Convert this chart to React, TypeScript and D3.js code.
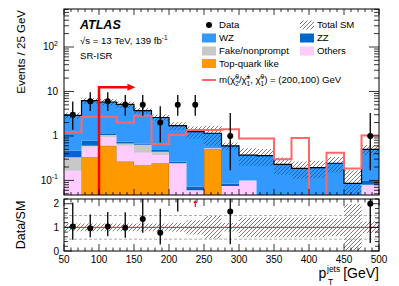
import React from 'react';
import * as d3 from 'd3';

// bins of pT(jets) in GeV
const binEdges = [50, 75, 100, 125, 150, 175, 200, 225, 250, 275, 300, 325, 350, 375, 400, 425, 450, 475, 500];

// background components (events / bin)
const topQuark = [0, 0.33, 0.6, 0.265, 0.22, 0.243, 0, 0, 0.5, 0, 0, 0, 0, 0, 0, 0, 0, 0];
const others = [0.166, 0.24, 0.33, 0.335, 0.2, 0.131, 0.243, 0.06, 0.03, 0.075, 0.1, 0, 0, 0, 0, 0, 0, 0.08];
const fake = [0.164, 0.03, 0.12, 0.08, 0.21, 0.066, 0, 0, 0, 0, 0, 0, 0, 0, 0, 0, 0, 0];
const zz = [0.14, 0.18, 0.05, 0.06, 0.05, 0.04, 0.02, 0.013, 0, 0.01, 0, 0, 0, 0, 0, 0, 0, 0.02];
const wz = [2.43, 5.42, 4.7, 4.36, 3.02, 2.12, 1.44, 1.18, 0.62, 0.515, 0.27, 0.36, 0.23, 0.187, 0.194, 0.243, 0.086, 0.4];
// relative uncertainty on total SM
const relUnc = [0.16, 0.16, 0.16, 0.16, 0.16, 0.16, 0.19, 0.3, 0.48, 0.18, 0.42, 0.42, 0.42, 0.42, 0.42, 0.38, 0.98, 0.25];

// signal m(chi2/chi1, chi1) = (200,100) GeV
const signal = [1.21, 2.7, 2.7, 2.0, 2.86, 0.66, 1.05, 1.36, 1.36, 1.41, 0.88, 0.88, 0.3, 0.9, 0, 0.42, 0.185, 1.02];

// observed data + asymmetric poisson intervals
const data = [3, 6, 6, 5, 5, 2, 5, 5, 0, 1, 0, 0, 0, 0, 0, 0, 0, 1];
const dataLo = [1.37, 3.62, 3.62, 2.84, 2.84, 0.71, 2.84, 2.84, 0, 0.17, 0, 0, 0, 0, 0, 0, 0, 0.17];
const dataHi = [5.92, 9.58, 9.58, 8.38, 8.38, 4.64, 8.38, 8.38, 0, 3.3, 0, 0, 0, 0, 0, 0, 0, 3.3];

const xTickLabels = [50, 100, 150, 200, 250, 300, 350, 400, 450, 500];
const yDecades = [-1, 0, 1, 2];
const ratioTickLabels = [0, 1, 2];

// SR cut arrow
const cutValue = 100;
const cutArrowTop = 12.4;
const cutArrowEnd = 152;

const W = 399, H = 286;
const L = 64, R = 379;
const MT = 9, MB = 195;
const RT = 199, RB = 251;
const FONT = "'Liberation Sans', Arial, Helvetica, sans-serif";

const x = d3.scaleLinear().domain([50, 500]).range([L, R]);
const y = d3.scaleLog().domain([0.047, 715]).range([MB, MT]);
const yr = d3.scaleLinear().domain([0, 2.2]).range([RB, RT]);

const yv = (v: number) => (v > 0 ? Math.min(MB + 3, y(v)) : MB + 3);

const layers = [
  { name: 'Top-quark like', vals: topQuark, color: '#ff9900' },
  { name: 'Others', vals: others, color: '#ffccff' },
  { name: 'Fake/nonprompt', vals: fake, color: '#c8c8c8' },
  { name: 'ZZ', vals: zz, color: '#0066cc' },
  { name: 'WZ', vals: wz, color: '#3399ff' },
];

const nBins = binEdges.length - 1;
const total = d3.range(nBins).map(i => d3.sum(layers, l => l.vals[i]));

// cumulative stack
const cum: number[][] = [];
{
  let run = new Array(nBins).fill(0);
  layers.forEach(l => {
    const lo = run.slice();
    run = run.map((r, i) => r + l.vals[i]);
    cum.push(lo, run.slice());
  });
}

type Pt = [number, number, number];
const stepPts = (lo: number[], hi: number[]): Pt[] =>
  binEdges.map((e, i) => {
    const k = Math.min(i, nBins - 1);
    return [e, lo[k], hi[k]];
  });

const areaMain = d3.area<Pt>().x(d => x(d[0])).y0(d => yv(d[1])).y1(d => yv(d[2])).curve(d3.curveStepAfter);
const lineMain = d3.line<Pt>().x(d => x(d[0])).y(d => yv(d[2])).curve(d3.curveStepAfter);
const areaRatio = d3.area<Pt>().x(d => x(d[0])).y0(d => yr(d[1])).y1(d => yr(d[2])).curve(d3.curveStepAfter);

const centers = d3.range(nBins).map(i => (binEdges[i] + binEdges[i + 1]) / 2);

const App: React.FC = () => {
  const xMinor = d3.range(50, 501, 10);
  const yMinor: number[] = [];
  [-2, -1, 0, 1, 2].forEach(d => {
    for (let k = 2; k <= 9; k++) {
      const v = k * Math.pow(10, d);
      if (v > 0.047 && v < 715) yMinor.push(v);
    }
  });
  const rMinor = d3.range(0, 2.21, 0.2);

  const zeros = new Array(nBins).fill(0);
  const bandLo = total.map((t, i) => t * (1 - relUnc[i]));
  const bandHi = total.map((t, i) => t * (1 + relUnc[i]));
  const rLo = relUnc.map(u => Math.max(0, 1 - u));
  const rHi = relUnc.map(u => 1 + u);

  const legRow = [25, 38, 51, 63.5, 80];
  const c1 = 202, c2 = 300;

  return (
    <svg width={W} height={H} style={{ position: 'absolute', left: 0, top: 0, background: '#fff' }} fontFamily={FONT}>
      <defs>
        <pattern id="hatch" patternUnits="userSpaceOnUse" width={4} height={4}>
          <path d="M-1,1 l2,-2 M0,4 l4,-4 M3,5 l2,-2" stroke="#444" strokeWidth={0.7} />
        </pattern>
        <clipPath id="clipMain"><rect x={L} y={MT} width={R - L} height={MB - MT} /></clipPath>
        <clipPath id="clipRatio"><rect x={L} y={RT} width={R - L} height={RB - RT} /></clipPath>
      </defs>

      {/* main panel */}
      <g clipPath="url(#clipMain)">
        {layers.map((l, j) => (
          <path key={l.name} d={areaMain(stepPts(cum[2 * j], cum[2 * j + 1])) || ''} fill={l.color}
            stroke={j === 0 ? '#b87a1e' : 'none'} strokeWidth={1} />
        ))}
        <path d={areaMain(stepPts(bandLo, bandHi)) || ''} fill="url(#hatch)" />
        <path d={lineMain(stepPts(zeros, total)) || ''} fill="none" stroke="#000" strokeWidth={1.2} />
        <path d={lineMain(stepPts(zeros, signal)) || ''} fill="none" stroke="#ff6666" strokeWidth={2} />
        {data.map((d, i) => d > 0 && (
          <g key={i}>
            <line x1={x(centers[i])} x2={x(centers[i])} y1={yv(dataLo[i])} y2={yv(dataHi[i])} stroke="#000" strokeWidth={1.3} />
            <circle cx={x(centers[i])} cy={y(d)} r={3} fill="#000" />
          </g>
        ))}
        <path d={`M${x(cutValue)},${MB + 2}V${y(cutArrowTop)}H${x(cutArrowEnd) - 7}`} fill="none" stroke="#ff0000" strokeWidth={2.5} />
        <path d={`M${x(cutArrowEnd) - 8},${y(cutArrowTop) - 3.5}L${x(cutArrowEnd)},${y(cutArrowTop)}L${x(cutArrowEnd) - 8},${y(cutArrowTop) + 3.5}Z`} fill="#ff0000" />
      </g>

      {/* main ticks */}
      {xMinor.map(v => {
        const len = v % 50 === 0 ? 6 : 3;
        return (
          <g key={'mx' + v} stroke="#000" strokeWidth={0.8}>
            <line x1={x(v)} x2={x(v)} y1={MB} y2={MB - len} />
            <line x1={x(v)} x2={x(v)} y1={MT} y2={MT + len} />
          </g>
        );
      })}
      {yMinor.map(v => (
        <g key={'my' + v} stroke="#000" strokeWidth={0.8}>
          <line x1={L} x2={L + 5} y1={y(v)} y2={y(v)} />
          <line x1={R} x2={R - 5} y1={y(v)} y2={y(v)} />
        </g>
      ))}
      {yDecades.map(d => (
        <g key={'md' + d} stroke="#000" strokeWidth={0.8}>
          <line x1={L} x2={L + 10} y1={y(Math.pow(10, d))} y2={y(Math.pow(10, d))} />
          <line x1={R} x2={R - 10} y1={y(Math.pow(10, d))} y2={y(Math.pow(10, d))} />
        </g>
      ))}
      {yDecades.map(d => (
        <text key={'ml' + d} x={58} y={y(Math.pow(10, d)) + 3.5} fontSize={10} textAnchor="end">
          {d === 0 ? '1' : d === 1 ? '10' : (
            <>10<tspan fontSize={7} dy={-4.5}>{String(d)}</tspan></>
          )}
        </text>
      ))}
      <rect x={L} y={MT} width={R - L} height={MB - MT} fill="none" stroke="#000" strokeWidth={1} />

      {/* labels */}
      <text x={80} y={29} fontSize={12.5} fontWeight="bold" fontStyle="italic">ATLAS</text>
      <text x={80} y={44} fontSize={9.6}>√s = 13 TeV, 139 fb<tspan fontSize={6.5} dy={-4}>-1</tspan></text>
      <text x={80} y={59} fontSize={9.6}>SR-ISR</text>
      <text transform={`translate(25,10) rotate(-90)`} fontSize={11.5} textAnchor="end">Events / 25 GeV</text>

      {/* legend */}
      <circle cx={c1 + 7} cy={legRow[0]} r={3} fill="#000" />
      <text x={219} y={legRow[0] + 3.4} fontSize={9.6}>Data</text>
      <rect x={c2} y={legRow[0] - 4.5} width={14} height={9} fill="url(#hatch)" />
      <text x={317} y={legRow[0] + 3.4} fontSize={9.6}>Total SM</text>
      {[
        { l: layers[4], cx: c1, tx: 219, r: 1 },
        { l: layers[3], cx: c2, tx: 317, r: 1 },
        { l: layers[2], cx: c1, tx: 219, r: 2 },
        { l: layers[1], cx: c2, tx: 317, r: 2 },
        { l: layers[0], cx: c1, tx: 219, r: 3 },
      ].map(e => (
        <g key={e.l.name}>
          <rect x={e.cx} y={legRow[e.r] - 4.5} width={14} height={9} fill={e.l.color} />
          <text x={e.tx} y={legRow[e.r] + 3.4} fontSize={9.6}>{e.l.name}</text>
        </g>
      ))}
      <line x1={c1} x2={c1 + 14} y1={legRow[4]} y2={legRow[4]} stroke="#ff6666" strokeWidth={2} />
      <text x={219} y={legRow[4] + 3.4} fontSize={9.6}>
        m(χ̃<tspan fontSize={6.5} dy={2.5}>2</tspan><tspan fontSize={6.5} dx={-3.6} dy={-6.5}>0</tspan>
        <tspan dy={4}>/χ̃</tspan><tspan fontSize={6.5} dy={2.5}>1</tspan><tspan fontSize={6.5} dx={-3.6} dy={-6.5}>±</tspan>
        <tspan dy={4}>, χ̃</tspan><tspan fontSize={6.5} dy={2.5}>1</tspan><tspan fontSize={6.5} dx={-3.6} dy={-6.5}>0</tspan>
        <tspan dy={4}>) = (200,100) GeV</tspan>
      </text>

      {/* ratio panel */}
      <g clipPath="url(#clipRatio)">
        <path d={areaRatio(stepPts(rLo, rHi)) || ''} fill="url(#hatch)" />
        {[0.5, 1.5].map(v => (
          <line key={'g' + v} x1={L} x2={R} y1={yr(v)} y2={yr(v)} stroke="#999" strokeWidth={0.8} strokeDasharray="3,2" />
        ))}
        <line x1={L} x2={R} y1={yr(1)} y2={yr(1)} stroke="#e02020" strokeWidth={1} />
        {data.map((d, i) => {
          if (d <= 0) return null;
          const t = total[i];
          if (dataLo[i] / t > 2.2) {
            const cx = x(centers[i]);
            return (
              <g key={'ra' + i}>
                <line x1={cx} x2={cx} y1={RT + 8} y2={RT + 3} stroke="#ff0000" strokeWidth={1.2} />
                <path d={`M${cx - 2},${RT + 4}L${cx},${RT + 1}L${cx + 2},${RT + 4}Z`} fill="#ff0000" />
              </g>
            );
          }
          return (
            <g key={'r' + i}>
              <line x1={x(centers[i])} x2={x(centers[i])} y1={yr(dataLo[i] / t)} y2={yr(dataHi[i] / t)} stroke="#000" strokeWidth={1.3} />
              <circle cx={x(centers[i])} cy={yr(d / t)} r={3} fill="#000" />
            </g>
          );
        })}
      </g>
      {xMinor.map(v => {
        const len = v % 50 === 0 ? 7 : 3.5;
        return (
          <g key={'rx' + v} stroke="#000" strokeWidth={0.8}>
            <line x1={x(v)} x2={x(v)} y1={RB} y2={RB - len} />
            <line x1={x(v)} x2={x(v)} y1={RT} y2={RT + len} />
          </g>
        );
      })}
      {rMinor.map(v => {
        const major = Math.abs(v - Math.round(v)) < 1e-6;
        const len = major ? 8 : 4;
        return (
          <g key={'ry' + v} stroke="#000" strokeWidth={0.8}>
            <line x1={L} x2={L + len} y1={yr(v)} y2={yr(v)} />
            <line x1={R} x2={R - len} y1={yr(v)} y2={yr(v)} />
          </g>
        );
      })}
      {ratioTickLabels.map(v => (
        <text key={'rl' + v} x={59} y={yr(v) + 3.5} fontSize={10} textAnchor="end">{v}</text>
      ))}
      <rect x={L} y={RT} width={R - L} height={RB - RT} fill="none" stroke="#000" strokeWidth={1} />
      <text transform={`translate(25,${(RT + RB) / 2}) rotate(-90)`} fontSize={12.5} textAnchor="middle">Data/SM</text>

      {xTickLabels.map(v => (
        <text key={'xl' + v} x={x(v)} y={263} fontSize={10} textAnchor="middle">{v}</text>
      ))}
      <text x={318.5} y={277.5} fontSize={14}>p</text>
      <text x={327} y={272} fontSize={8.5}>jets</text>
      <text x={328} y={284.5} fontSize={8.5}>T</text>
      <text x={379} y={277.5} fontSize={14} textAnchor="end">[GeV]</text>
    </svg>
  );
};

export default App;
